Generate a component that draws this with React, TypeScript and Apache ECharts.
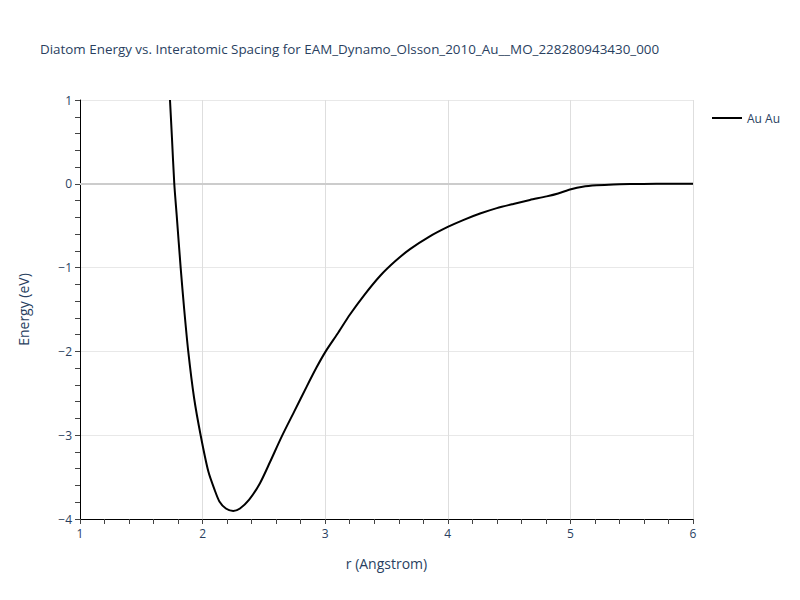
import React, { useEffect, useRef } from "react";
import * as echarts from "echarts";

const titleText = "Diatom Energy vs. Interatomic Spacing for EAM_Dynamo_Olsson_2010_Au__MO_228280943430_000";
const seriesName = "Au Au";
const rValues = [1.734, 1.75, 1.769, 1.79, 1.821, 1.85, 1.883, 1.93, 1.984, 2.047, 2.1, 2.137, 2.19, 2.25, 2.305, 2.38, 2.468, 2.55, 2.645, 2.75, 2.849, 2.93, 3.004, 3.1, 3.202, 3.32, 3.447, 3.57, 3.692, 3.85, 4.004, 4.13, 4.263, 4.4, 4.534, 4.67, 4.806, 4.9, 5.005, 5.1, 5.214, 5.35, 5.486, 5.7, 6.0];
const energyValues = [1, 0.55, 0, -0.4, -1, -1.5, -2, -2.55, -3, -3.434, -3.66, -3.79, -3.875, -3.905, -3.875, -3.77, -3.573, -3.32, -3.017, -2.71, -2.42, -2.19, -2.0, -1.79, -1.56, -1.325, -1.1, -0.925, -0.78, -0.63, -0.512, -0.43, -0.355, -0.29, -0.24, -0.193, -0.15, -0.115, -0.065, -0.035, -0.018, -0.007, -0.003, 0.0, 0.0];

const textColor = "#2a3f5f";
const fontFamily = '"Open Sans", verdana, arial, sans-serif';

export default function App() {
  const ref = useRef<HTMLDivElement>(null);
  useEffect(() => {
    if (!ref.current) return;
    const chart = echarts.init(ref.current, undefined, { renderer: "svg" });
    const data = rValues.map((r, i) => [r, energyValues[i]]);
    chart.setOption({
      animation: false,
      backgroundColor: "#ffffff",
      textStyle: { fontFamily },
      title: {
        text: titleText,
        left: 35,
        top: 37,
        textStyle: { fontSize: 13.4, fontWeight: "normal", color: textColor, fontFamily },
      },
      legend: {
        data: [{ name: seriesName, icon: "rect" }],
        left: 707,
        top: 107,
        itemWidth: 30,
        itemHeight: 2,
        itemGap: 6,
        textStyle: { fontSize: 12, color: textColor, fontFamily },
      },
      grid: { left: 80, right: 107, top: 100, bottom: 81, containLabel: false },
      xAxis: {
        type: "value",
        min: 1,
        max: 6,
        interval: 1,
        name: "r (Angstrom)",
        nameLocation: "middle",
        nameGap: 37,
        nameTextStyle: { fontSize: 14, color: textColor, fontFamily },
        axisLine: { show: true, onZero: false, lineStyle: { color: "#000", width: 1 } },
        axisTick: { show: true, inside: false, length: 5, lineStyle: { color: "#444" } },
        minorTick: { show: true, splitNumber: 5, length: 5, lineStyle: { color: "#444" } },
        axisLabel: { fontSize: 12, color: textColor, margin: 8, fontFamily },
        splitLine: { show: true, lineStyle: { color: "#dedede", width: 1 } },
      },
      yAxis: {
        type: "value",
        min: -4,
        max: 1,
        interval: 1,
        name: "Energy (eV)",
        nameLocation: "middle",
        nameGap: 50,
        nameTextStyle: { fontSize: 14, color: textColor, fontFamily },
        axisLine: { show: true, onZero: false, lineStyle: { color: "#000", width: 1 } },
        axisTick: { show: true, inside: false, length: 5, lineStyle: { color: "#444" } },
        minorTick: { show: true, splitNumber: 5, length: 5, lineStyle: { color: "#444" } },
        axisLabel: {
          fontSize: 12,
          color: textColor,
          margin: 8,
          fontFamily,
          formatter: (v: number) => (v < 0 ? "\u2212" + Math.abs(v) : String(v)),
        },
        splitLine: { show: true, lineStyle: { color: "#e8e8e8", width: 1 } },
      },
      series: [
        {
          name: seriesName,
          type: "line",
          data,
          symbol: "none",
          showSymbol: false,
          smooth: 0.25,
          lineStyle: { color: "#000", width: 2 },
          itemStyle: { color: "#000" },
          z: 3,
          markLine: {
            silent: true,
            symbol: "none",
            label: { show: false },
            lineStyle: { color: "#cccccc", width: 2, type: "solid" },
            data: [{ yAxis: 0 }],
            z: 1,
          },
        },
      ],
    });
    return () => chart.dispose();
  }, []);
  return (
    <div
      ref={ref}
      style={{ position: "absolute", left: 0, top: 0, width: 800, height: 600 }}
    />
  );
}
